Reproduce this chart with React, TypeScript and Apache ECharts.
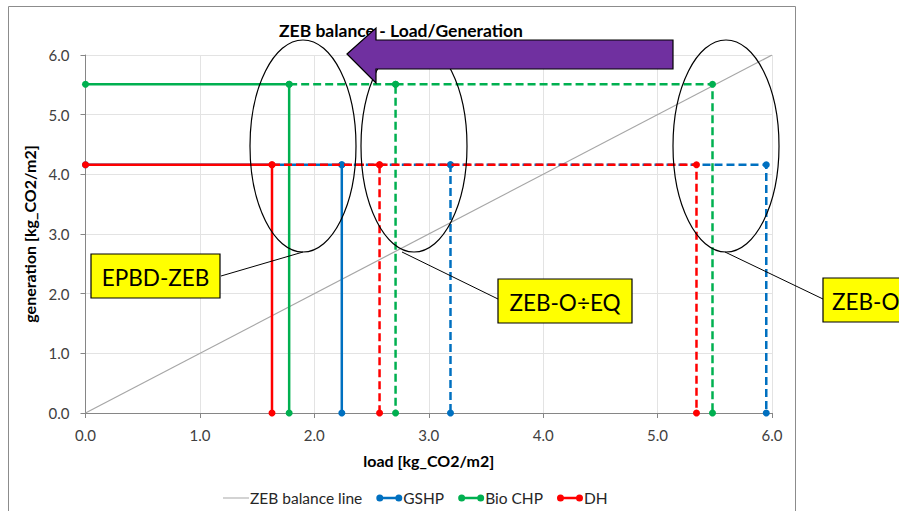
import React, { useEffect, useRef } from "react";
import * as echarts from "echarts";

// ---- data ----
const axisMin = 0;
const axisMax = 6;
const axisInterval = 1;
const balanceLine: number[][] = [[0, 0], [6, 6]];
const techNames = ["GSHP", "Bio CHP", "DH"];
const techColors = ["#0070C0", "#00B050", "#FF0000"];
const generation = [4.16, 5.51, 4.16];
const loadEPBD = [2.24, 1.78, 1.63];
const loadEQ = [3.19, 2.71, 2.57];
const loadO = [5.95, 5.48, 5.34];
const calloutLabels = ["EPBD-ZEB", "ZEB-O÷EQ", "ZEB-O"];

const FONT = "Lato, 'Open Sans', sans-serif";
const legendIconDots =
  "path://M0,4a3.5,3.5 0 1,1 7,0a3.5,3.5 0 1,1 -7,0Z M3.5,2.8H22.5V5.2H3.5Z M19,4a3.5,3.5 0 1,1 7,0a3.5,3.5 0 1,1 -7,0Z";
const legendIconLine = "path://M0,3.5H26V4.5H0Z";

export default function App() {
  const ref = useRef<HTMLDivElement>(null);
  useEffect(() => {
    if (!ref.current) return;
    const chart = echarts.init(ref.current, undefined, { renderer: "svg" });

    const series: any[] = [
      {
        name: "ZEB balance line",
        type: "line",
        data: balanceLine,
        symbol: "none",
        lineStyle: { color: "#A6A6A6", width: 1.2 },
        itemStyle: { color: "#A6A6A6" },
        z: 2,
      },
    ];
    techNames.forEach((name, i) => {
      const g = generation[i];
      const c = techColors[i];
      const common = {
        type: "line",
        symbol: "circle",
        symbolSize: 7,
        showAllSymbol: true,
        itemStyle: { color: c },
        z: 3 + i,
      };
      series.push({
        ...common,
        name,
        data: [[0, g], [loadEPBD[i], g], [loadEPBD[i], 0]],
        lineStyle: { color: c, width: 2.5 },
      });
      series.push({
        ...common,
        name: name + " EQ",
        data: [[loadEPBD[i], g], [loadEQ[i], g], [loadEQ[i], 0]],
        lineStyle: { color: c, width: 2.5, type: [8, 4] },
      });
      series.push({
        ...common,
        name: name + " O",
        data: [[loadEQ[i], g], [loadO[i], g], [loadO[i], 0]],
        lineStyle: { color: c, width: 2.5, type: [8, 4] },
      });
    });

    const ellipses = [
      { cx: 303, cy: 146 },
      { cx: 414, cy: 146 },
      { cx: 726, cy: 146 },
    ];
    const boxes = [
      { x: 91, y: 254, w: 129, h: 44, lx1: 221, ly1: 276, lx2: 303, ly2: 252 },
      { x: 498, y: 279, w: 134, h: 44, lx1: 498, ly1: 299, lx2: 402, ly2: 252 },
      { x: 823, y: 278, w: 130, h: 44, lx1: 823, ly1: 299, lx2: 725, ly2: 252 },
    ];

    const graphics: any[] = [
      {
        type: "rect",
        shape: { x: 8.5, y: 6.5, width: 787, height: 520 },
        style: { fill: "none", stroke: "#8C8C8C", lineWidth: 1 },
        z: 0,
        silent: true,
      },
      {
        type: "polygon",
        shape: {
          points: [
            [347, 54],
            [376, 28],
            [376, 40],
            [673, 40],
            [673, 69],
            [376, 69],
            [376, 83],
          ],
        },
        style: { fill: "#7030A0", stroke: "#000", lineWidth: 1.2 },
        z: 100,
      },
    ];
    ellipses.forEach((e) => {
      graphics.push({
        type: "ellipse",
        shape: { cx: e.cx, cy: e.cy, rx: 53, ry: 106 },
        style: { fill: "none", stroke: "#000", lineWidth: 1.2 },
        z: 60,
      });
    });
    boxes.forEach((b, i) => {
      graphics.push({
        type: "line",
        shape: { x1: b.lx1, y1: b.ly1, x2: b.lx2, y2: b.ly2 },
        style: { stroke: "#000", lineWidth: 1 },
        z: 60,
      });
      graphics.push({
        type: "rect",
        shape: { x: b.x, y: b.y, width: b.w, height: b.h },
        style: { fill: "#FFFF00", stroke: "#000", lineWidth: 1.2 },
        z: 61,
      });
      graphics.push({
        type: "text",
        x: i === 2 ? b.x + 9 : b.x + b.w / 2,
        y: b.y + b.h / 2 + 1,
        style: {
          text: calloutLabels[i],
          font: `22.5px ${FONT}`,
          fill: "#000",
          align: i === 2 ? "left" : "center",
          verticalAlign: "middle",
        },
        z: 62,
      });
    });

    const option: any = {
      animation: false,
      backgroundColor: "#fff",
      title: {
        text: "ZEB balance - Load/Generation",
        left: 274,
        top: 16,
        textStyle: { fontFamily: FONT, fontSize: 17.5, fontWeight: "bold", color: "#000" },
        z: 6,
      },
      legend: {
        left: 218,
        top: 485,
        itemGap: 14,
        itemWidth: 26,
        itemHeight: 8,
        textStyle: { fontFamily: FONT, fontSize: 15.5, color: "#262626", padding: [0, 0, 0, -4] },
        data: [
          { name: "ZEB balance line", icon: legendIconLine },
          ...techNames.map((n) => ({ name: n, icon: legendIconDots })),
        ],
      },
      grid: {
        left: 85.5,
        right: 127,
        top: 55,
        bottom: 98,
        containLabel: false,
        outerBoundsMode: "none",
      },
      xAxis: {
        type: "value",
        min: axisMin,
        max: axisMax,
        interval: axisInterval,
        name: "load [kg_CO2/m2]",
        nameLocation: "middle",
        nameGap: 39,
        nameTextStyle: { fontFamily: FONT, fontSize: 16, fontWeight: "bold", color: "#000" },
        axisLine: { show: true, onZero: false, lineStyle: { color: "#868686", width: 1 } },
        axisTick: { show: true, length: 5, lineStyle: { color: "#868686" } },
        axisLabel: {
          fontFamily: FONT,
          fontSize: 15,
          color: "#404040",
          margin: 14,
          formatter: (v: number) => v.toFixed(1),
        },
        splitLine: { show: true, lineStyle: { color: "#E3E3E3", width: 1 } },
      },
      yAxis: {
        type: "value",
        min: axisMin,
        max: axisMax,
        interval: axisInterval,
        name: "generation [kg_CO2/m2]",
        nameLocation: "middle",
        nameGap: 42,
        nameTextStyle: { fontFamily: FONT, fontSize: 16, fontWeight: "bold", color: "#000" },
        axisLine: { show: true, onZero: false, lineStyle: { color: "#868686", width: 1 } },
        axisTick: { show: true, length: 5, lineStyle: { color: "#868686" } },
        axisLabel: {
          fontFamily: FONT,
          fontSize: 15,
          color: "#404040",
          margin: 16,
          formatter: (v: number) => v.toFixed(1),
        },
        splitLine: { show: true, lineStyle: { color: "#E3E3E3", width: 1 } },
      },
      series,
      graphic: graphics,
    };
    chart.setOption(option);
    return () => chart.dispose();
  }, []);
  return <div ref={ref} style={{ width: 899, height: 511, position: "absolute", left: 0, top: 0 }} />;
}
